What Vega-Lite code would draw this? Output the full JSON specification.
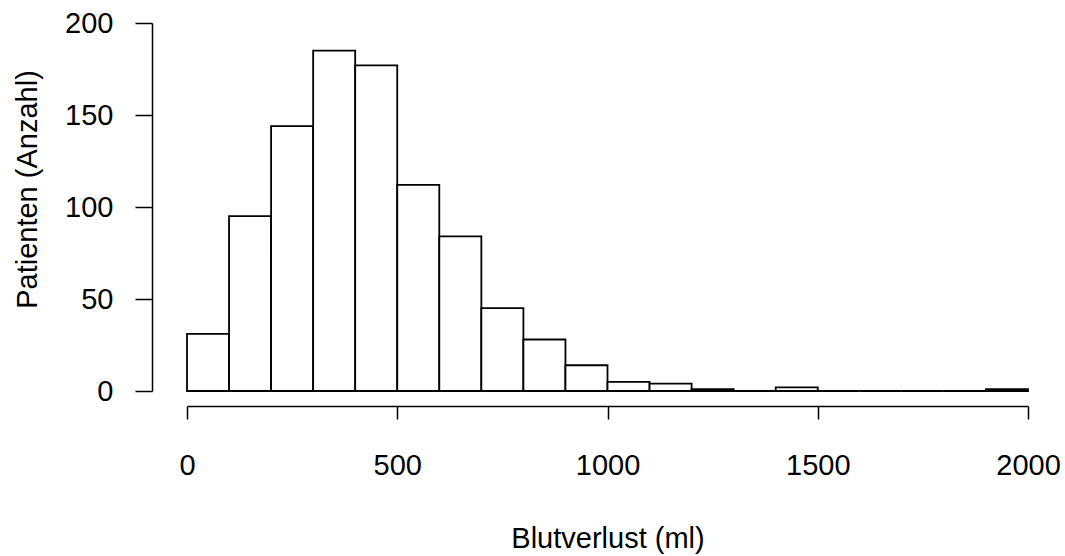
{
  "$schema": "https://vega.github.io/schema/vega-lite/v6.json",
  "autosize": {"type": "none"},
  "width": 841,
  "height": 368,
  "padding": {"left": 187, "top": 23, "right": 37, "bottom": 165},
  "background": "white",
  "config": {
    "view": {"stroke": null},
    "font": "Liberation Sans",
    "axis": {"grid": false, "domainColor": "black", "tickColor": "black", "labelColor": "black", "titleColor": "black", "domainWidth": 1.5, "tickWidth": 1.5, "labelFont": "Liberation Sans", "titleFont": "Liberation Sans", "labelFontSize": 29, "titleFontSize": 29, "titleFontWeight": "normal"}
  },
  "data": {
    "values": [
      {"start": 0, "end": 100, "count": 31},
      {"start": 100, "end": 200, "count": 95},
      {"start": 200, "end": 300, "count": 144},
      {"start": 300, "end": 400, "count": 185},
      {"start": 400, "end": 500, "count": 177},
      {"start": 500, "end": 600, "count": 112},
      {"start": 600, "end": 700, "count": 84},
      {"start": 700, "end": 800, "count": 45},
      {"start": 800, "end": 900, "count": 28},
      {"start": 900, "end": 1000, "count": 14},
      {"start": 1000, "end": 1100, "count": 5},
      {"start": 1100, "end": 1200, "count": 4},
      {"start": 1200, "end": 1300, "count": 1},
      {"start": 1300, "end": 1400, "count": 0},
      {"start": 1400, "end": 1500, "count": 2},
      {"start": 1500, "end": 1600, "count": 0},
      {"start": 1600, "end": 1700, "count": 0},
      {"start": 1700, "end": 1800, "count": 0},
      {"start": 1800, "end": 1900, "count": 0},
      {"start": 1900, "end": 2000, "count": 1}
    ]
  },
  "mark": {"type": "bar", "fill": "white", "stroke": "black", "strokeWidth": 1.8, "clip": false},
  "encoding": {
    "x": {
      "field": "start", "type": "quantitative",
      "scale": {"domain": [0, 2000], "nice": false, "zero": false},
      "axis": {"title": "Blutverlust (ml)", "values": [0, 500, 1000, 1500, 2000], "format": "d", "offset": 15, "tickSize": 13, "labelPadding": 32, "titlePadding": 44, "labelFlush": false, "labelOverlap": false}
    },
    "x2": {"field": "end"},
    "y": {
      "field": "count", "type": "quantitative",
      "scale": {"domain": [0, 200], "nice": false},
      "axis": {"title": "Patienten (Anzahl)", "values": [0, 50, 100, 150, 200], "format": "d", "offset": 35, "tickSize": 17, "labelPadding": 22, "titlePadding": 22, "titleY": 166, "labelFlush": false, "labelOverlap": false}
    },
    "y2": {"datum": 0}
  }
}
